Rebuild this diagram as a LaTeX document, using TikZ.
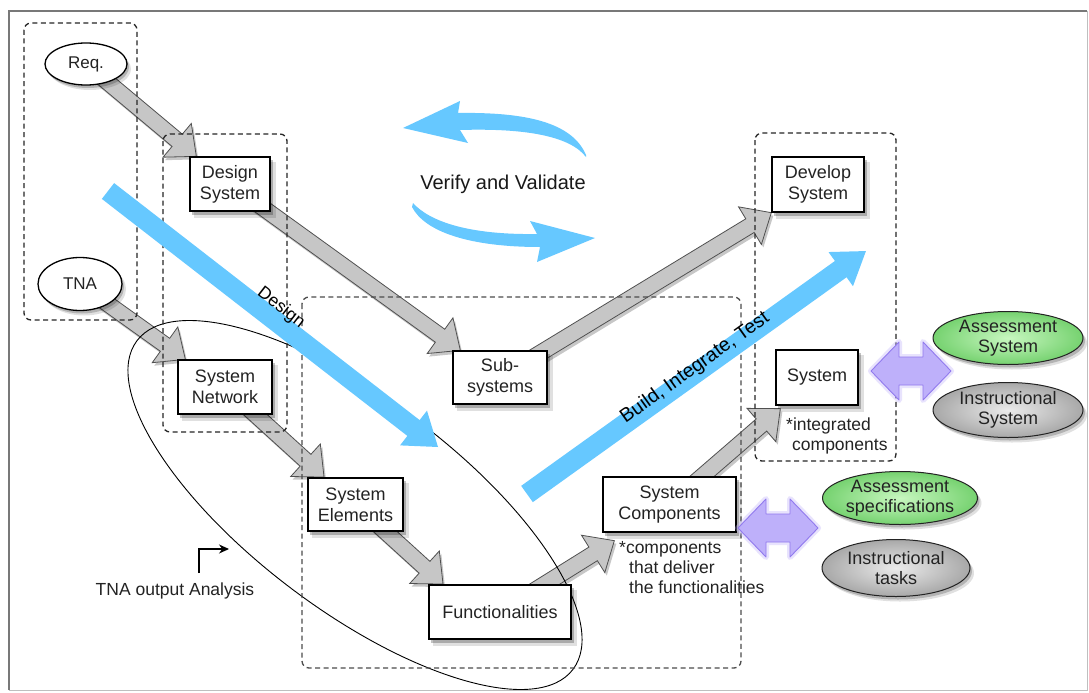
\documentclass[tikz,border=0pt]{standalone}
\usepackage{fontspec}
\setmainfont{Liberation Sans}
\usetikzlibrary{calc,arrows.meta,shapes.geometric}

\definecolor{skyblue}{RGB}{102,200,255}
\definecolor{inkgray}{RGB}{35,35,35}
\definecolor{arrowgray}{RGB}{198,198,198}
\definecolor{arrowedge}{RGB}{80,80,80}
\definecolor{lilac}{RGB}{190,176,250}
\definecolor{lilacedge}{RGB}{145,122,238}
\definecolor{mintin}{RGB}{200,247,192}
\definecolor{mintout}{RGB}{118,210,112}
\definecolor{greyin}{RGB}{235,235,235}
\definecolor{greyout}{RGB}{168,168,168}
\definecolor{framegray}{RGB}{120,120,120}

\pgfdeclarelayer{back}
\pgfsetlayers{back,main}

% block arrow from #2 to the tip #3; #4 half shaft width, #5 half head width, #6 head length
\newcommand\fatarrow[6]{%
  \path[#1] let \p1=#2, \p2=#3,
      \n1={atan2(\y2-\y1,\x2-\x1)}, \n2={veclen(\x2-\x1,\y2-\y1)} in
    ([shift={(\p1)},rotate=\n1]0pt,#4pt)
 -- ([shift={(\p1)},rotate=\n1]\n2-#6pt,#4pt)
 -- ([shift={(\p1)},rotate=\n1]\n2-#6pt,#5pt)
 -- ([shift={(\p1)},rotate=\n1]\n2+0pt,0pt)
 -- ([shift={(\p1)},rotate=\n1]\n2-#6pt,-#5pt)
 -- ([shift={(\p1)},rotate=\n1]\n2-#6pt,-#4pt)
 -- ([shift={(\p1)},rotate=\n1]0pt,-#4pt) -- cycle;}

% grey step arrow with its shadow
\newcommand\steparrow[2]{%
  \fatarrow{arrowshadow}{#1}{#2}{8}{22}{25}
  \fatarrow{grayarrow}{#1}{#2}{8}{22}{25}}

% shadow under a box node
\newcommand\boxshadow[1]{%
  \fill[black, opacity=0.12] ([shift={(5pt,-6pt)}]#1.south west) rectangle ([shift={(5pt,-6pt)}]#1.north east);
  \fill[black, opacity=0.24] ([shift={(2.5pt,-3.5pt)}]#1.south west) rectangle ([shift={(2.5pt,-3.5pt)}]#1.north east);}

% shadow under an oval node
\newcommand\ovalshadow[3]{%
  \fill[black, opacity=0.12, transform canvas={shift={(4pt,-5pt)}}] (#1.center) ellipse [x radius=#2, y radius=#3];
  \fill[black, opacity=0.20, transform canvas={shift={(2pt,-3pt)}}] (#1.center) ellipse [x radius=#2, y radius=#3];}

\tikzset{
  stepbox/.style={draw=black, line width=1.3pt, fill=white, align=center, inner sep=1pt,
                  text=inkgray, font=\fontsize{18}{21}\selectfont},
  oval/.style={ellipse, draw=black, line width=1.3pt, fill=white, inner sep=0pt,
               text=inkgray, font=\fontsize{17}{20}\selectfont},
  bubble/.style={ellipse, draw=inkgray, line width=1pt, align=center, inner sep=0pt,
                 text=inkgray, font=\fontsize{18}{20}\selectfont},
  greenbubble/.style={bubble, inner color=mintin, outer color=mintout},
  greybubble/.style={bubble, inner color=greyin, outer color=greyout},
  grayarrow/.style={fill=arrowgray, draw=arrowedge, line width=0.8pt, line join=miter},
  arrowshadow/.style={fill=black, opacity=0.22, transform canvas={shift={(2pt,-3pt)}}},
  bluearrow/.style={fill=skyblue},
  group/.style={draw=black!85, line width=1.3pt, dash pattern=on 5pt off 3.5pt, rounded corners=7pt},
  note/.style={align=left, inner sep=0pt, text=inkgray, font=\fontsize{17.5}{20}\selectfont},
  pics/twoway/.style={code={
    \draw[draw=lilac, line width=6pt, opacity=0.35, line join=round]
      (-40,0) -- (-12,-29) -- (-12,-14) -- (12,-14) -- (12,-29) -- (40,0)
      -- (12,29) -- (12,14) -- (-12,14) -- (-12,29) -- cycle;
    \draw[draw=lilacedge, fill=lilac, line width=0.9pt, line join=round]
      (-40,0) -- (-12,-29) -- (-12,-14) -- (12,-14) -- (12,-29) -- (40,0)
      -- (12,29) -- (12,14) -- (-12,14) -- (-12,29) -- cycle;}}
}

\begin{document}
\begin{tikzpicture}[x=1pt,y=-1pt]
\useasboundingbox (0,0) rectangle (1089,693);

% inputs
\node[oval, minimum width=82pt, minimum height=42pt] (req) at (86,64) {Req.};
\node[oval, minimum width=84pt, minimum height=53pt] (tna) at (80,284) {TNA};

% steps of the V
\node[stepbox, minimum width=80pt, minimum height=54pt] (dsys) at (230,184) {Design\\System};
\node[stepbox, minimum width=94pt, minimum height=54pt] (sn) at (225,387) {System\\Network};
\node[stepbox, minimum width=95pt, minimum height=53pt] (se) at (355.5,504.5) {System\\Elements};
\node[stepbox, minimum width=142pt, minimum height=54pt] (func) at (500,612) {Functionalities};
\node[stepbox, minimum width=94pt, minimum height=53pt] (sub) at (500,377.5) {Sub-\\systems};
\node[stepbox, minimum width=133pt, minimum height=55pt] (sc) at (669.5,504.5) {System\\Components};
\node[stepbox, minimum width=82pt, minimum height=55pt] (sys) at (817,377.5) {System};
\node[stepbox, minimum width=92pt, minimum height=55pt] (dev) at (818,184.5) {Develop\\System};

% outputs
\node[greenbubble, minimum width=150pt, minimum height=53pt] (as) at (1008,338) {Assessment\\System};
\node[greybubble, minimum width=150pt, minimum height=55pt] (is) at (1008,410) {Instructional\\System};
\node[greenbubble, minimum width=155pt, minimum height=53pt] (asp) at (900,498) {Assessment\\specifications};
\node[greybubble, minimum width=148pt, minimum height=57pt] (it) at (896,568) {Instructional\\tasks};

\pic at (911,371) {twoway};
\pic at (778,528) {twoway};

% notes
\node[note, anchor=north west] (intnote) at (786,418) {*integrated\\\hspace*{6pt}components};
\node[note, anchor=north west] (compnote) at (619,541) {*components\\\hspace*{10pt}that deliver\\\hspace*{10pt}the functionalities};
\node[note] (tnaout) at (175,591) {TNA output Analysis};
\coordinate (tnafoot) at (199,573);
\coordinate (tnahead) at (229,549);
\draw[black, line width=1.1pt, -{Stealth[length=10pt,width=9pt]}] (tnafoot) |- (tnahead);

\begin{pgfonlayer}{back}
  \fill[white] (0,0) rectangle (1089,693);
  % page frame
  \draw[framegray, line width=2pt] (9,690) -- (9,11) -- (1087,11);
  \draw[black!25, line width=1pt] (1087,11) -- (1087,690) -- (9,690);
  % flow between the steps
  \steparrow{(req.center)}{([xshift=7pt]dsys.north west)}
  \steparrow{(dsys.center)}{([xshift=8pt]sub.north west)}
  \steparrow{(sub.center)}{(dev.south west)}
  \steparrow{(tna.center)}{([xshift=8pt]sn.north west)}
  \steparrow{(sn.center)}{([xshift=17pt]se.north west)}
  \steparrow{(se.center)}{([xshift=15pt]func.north west)}
  \steparrow{(func.center)}{($(sc.south west)+(12,8)$)}
  \steparrow{(sc.center)}{($(sys.south west)+(5,3)$)}
  % analysis region
  \draw[black, line width=0.9pt, rotate around={-37:(355,505)}] (355,505) ellipse [x radius=273, y radius=105];
  % groups
  \draw[group] (24,23) rectangle (137,320);
  \draw[group] (163,134) rectangle (287,432);
  \draw[group, draw=black!70] (302,297) rectangle (741,668);
  \draw[group] (755,133) rectangle (896,461);
  % shadows of the nodes
  \foreach \b in {dsys,sn,se,func,sub,sc,sys,dev} {\boxshadow{\b}}
  \ovalshadow{req}{41}{21}
  \ovalshadow{tna}{42}{26.5}
  \ovalshadow{as}{75}{26.5}
  \ovalshadow{is}{75}{27.5}
  \ovalshadow{asp}{77.5}{26.5}
  \ovalshadow{it}{74}{28.5}
\end{pgfonlayer}

% design and build directions
\coordinate (dstart) at (108,191);
\coordinate (dtip) at (438,447);
\coordinate (bstart) at (527,494);
\coordinate (btip) at (866,251);
\fatarrow{bluearrow}{(dstart)}{(dtip)}{10}{22}{31}
\fatarrow{bluearrow}{(bstart)}{(btip)}{10}{21}{31}
\node[rotate=-37.8, font=\fontsize{17.5}{20}\selectfont] (dlabel) at (281,308) {Design};
\node[rotate=35.6, font=\fontsize{19.5}{22}\selectfont] (blabel) at (695,368) {Build, Integrate, Test};

% verify and validate loop
\fill[skyblue] (586,155) .. controls (572,122) and (525,112) .. (458,113)
  -- (460,101) -- (403,128) -- (468,143) -- (460,130)
  .. controls (525,128) and (570,136) .. (586,157) -- cycle;
\fill[skyblue] (413,203) .. controls (430,222) and (470,235) .. (537,234)
  -- (530,221) -- (595,238) -- (537,262) -- (540,247)
  .. controls (470,247) and (425,232) .. (412,207) -- cycle;
\node[font=\fontsize{20}{24}\selectfont, text=black!90] (vv) at (503,184) {Verify and Validate};
\end{tikzpicture}
\end{document}
